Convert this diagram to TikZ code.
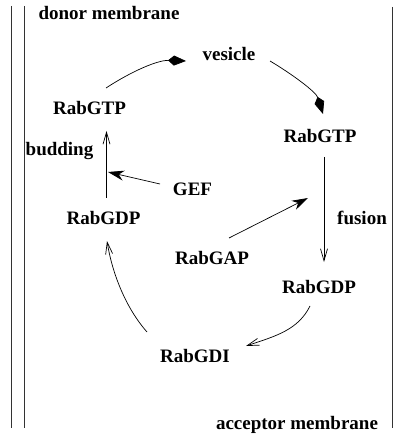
\documentclass[tikz,border=0pt]{standalone}
\usepackage{fontspec}
\setmainfont{Liberation Serif}
\usetikzlibrary{arrows.meta,calc}
\begin{document}
\begin{tikzpicture}[x=1pt,y=-1pt,
  lbl/.style={anchor=base,inner sep=0pt,font=\bfseries\fontsize{19}{22}\selectfont},
  conn/.style={line width=0.7pt},
  kitetip/.style={conn,-{Kite[length=18pt,width=10pt,inset=6pt]}},
  stealthtip/.style={conn,-{Stealth[length=16pt,width=10pt,inset=5pt]}},
  opentip/.style={conn,-{Straight Barb[length=12pt,width=7pt]}},
  membrane/.style={line width=0.8pt,black!80}]
\useasboundingbox (0,0) rectangle (399,435);
% membranes
\draw[membrane] (11.5,6) -- (11.5,428);
\draw[membrane] (24.5,6) -- (24.5,428);
\draw[membrane] (392,7) -- (392,428);
% labels
\node[lbl] (donor) at (109,20) {donor membrane};
\node[lbl] (vesicle) at (229,61) {vesicle};
\node[lbl] (gtpL) at (89.5,115) {RabGTP};
\node[lbl] (gtpR) at (320,143) {RabGTP};
\node[lbl] (budding) at (59.5,156) {budding};
\node[lbl] (gef) at (192.5,196) {GEF};
\node[lbl] (gdpL) at (103.5,224) {RabGDP};
\node[lbl] (fusion) at (362,224) {fusion};
\node[lbl] (gap) at (212,264) {RabGAP};
\node[lbl] (gdpR) at (319,293) {RabGDP};
\node[lbl] (gdi) at (195,362) {RabGDI};
\node[lbl] (acceptor) at (297,429) {acceptor membrane};
% coordinates
\coordinate (a1s) at ($(gtpL.base)+(16.5,-27)$);
\coordinate (a1e) at ($(vesicle.base)+(-43,0)$);
\coordinate (a2s) at ($(vesicle.base)+(41,0)$);
\coordinate (a2e) at ($(gtpR.base)+(3,-29)$);
\coordinate (a3s) at ($(gdpL.base)+(3,-26)$);
\coordinate (a3e) at ($(gtpL.base)+(17,16)$);
\coordinate (a4s) at ($(gef.base)+(-32.5,-12)$);
\coordinate (a4e) at ($(gtpL.base)+(18.5,57)$);
\coordinate (a5s) at ($(gtpR.base)+(4,14)$);
\coordinate (a5e) at ($(gdpR.base)+(5,-31)$);
\coordinate (a6s) at ($(gap.base)+(17,-26)$);
\coordinate (a6e) at ($(gtpR.base)+(-12,55)$);
\coordinate (a7s) at ($(gdpR.base)+(-9,13)$);
\coordinate (a7e) at ($(gdi.base)+(51,-16)$);
\coordinate (a8s) at ($(gdi.base)+(-48,-30)$);
\coordinate (a8e) at ($(gdpL.base)+(3.5,17)$);
% connectors
\draw[kitetip] (a1s) .. controls (132,71) and (158,60) .. (a1e);
\draw[kitetip] (a2s) .. controls (292,74) and (316,92) .. (a2e);
\draw[opentip] (a3s) -- (a3e);
\draw[stealthtip] (a4s) -- (a4e);
\draw[opentip] (a5s) -- (a5e);
\draw[stealthtip] (a6s) -- (a6e);
\draw[opentip] (a7s) .. controls (298,330) and (276,336) .. (a7e);
\draw[opentip] (a8s) .. controls (125,307) and (112,272) .. (a8e);
\end{tikzpicture}
\end{document}
